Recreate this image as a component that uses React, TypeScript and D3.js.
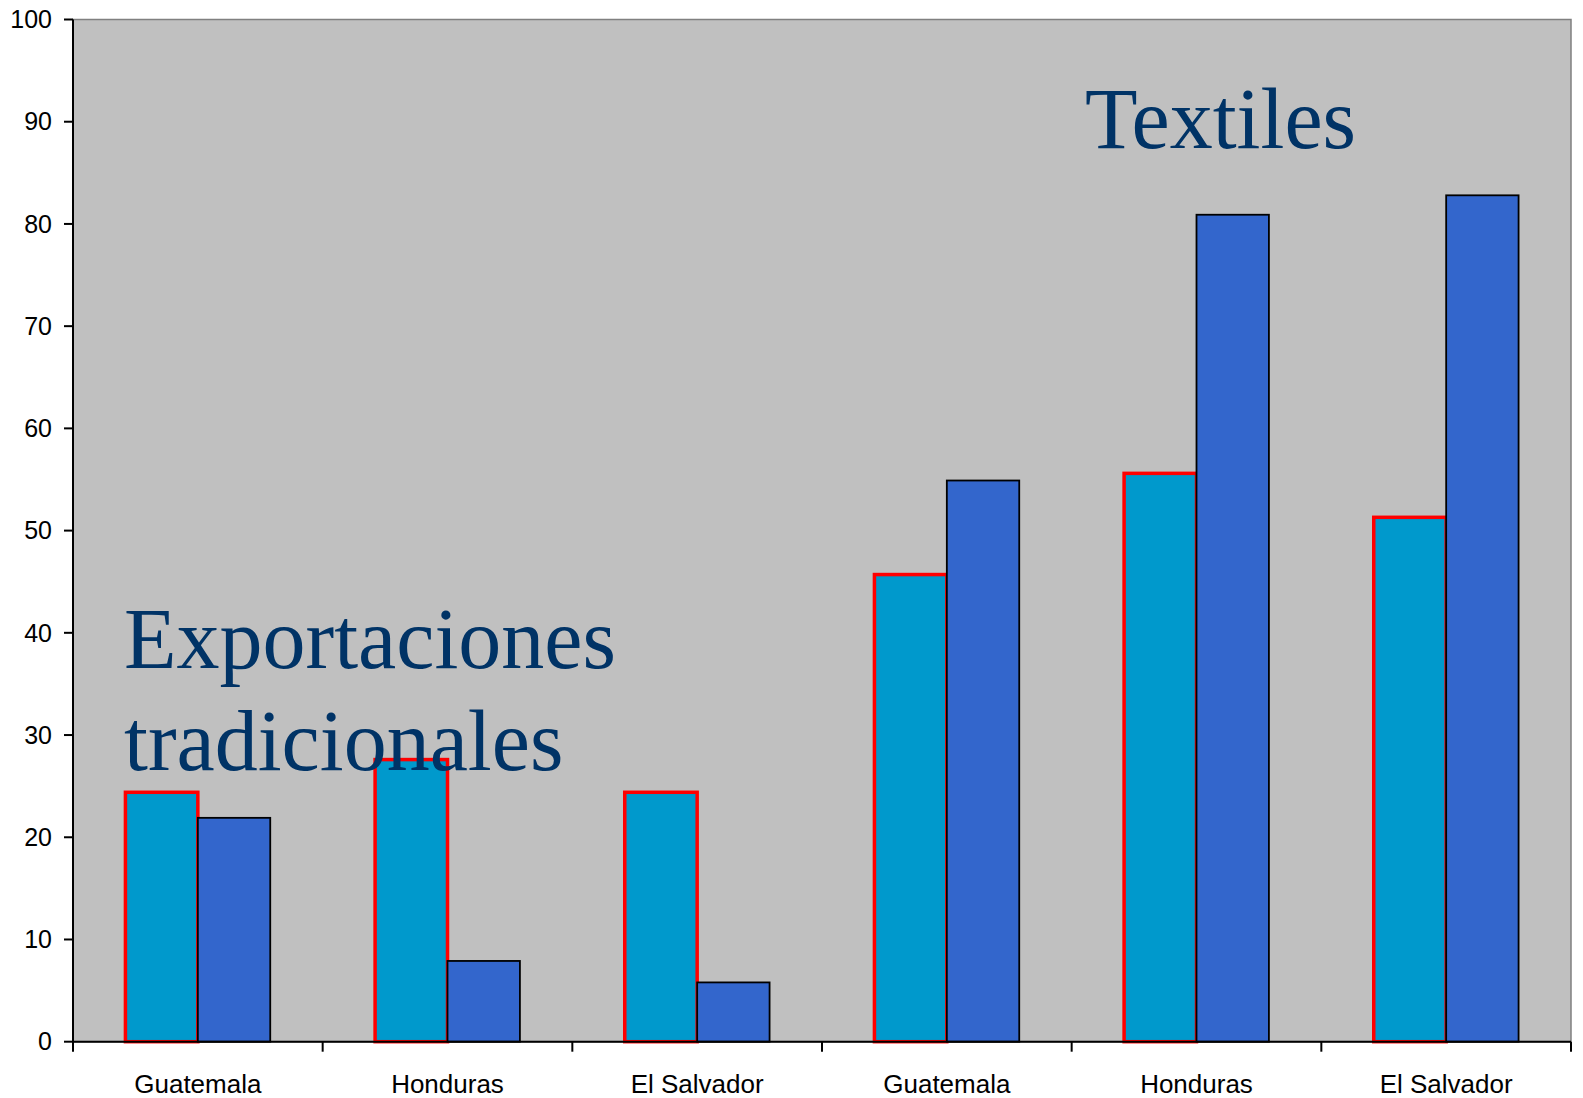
import * as d3 from 'd3';
import React from 'react';

// data
const categories = ['Guatemala', 'Honduras', 'El Salvador', 'Guatemala ', 'Honduras ', 'El Salvador '];
const categoryLabels = ['Guatemala', 'Honduras', 'El Salvador', 'Guatemala', 'Honduras', 'El Salvador'];
const seriesA = [24.4, 27.6, 24.4, 45.7, 55.6, 51.3];
const seriesB = [21.9, 7.9, 5.8, 54.9, 80.9, 82.8];
const yTicks = [0, 10, 20, 30, 40, 50, 60, 70, 80, 90, 100];
const seriesKeys = ['a', 'b'];

const W = 1583;
const H = 1098;
const left = 73;
const right = 1571;
const top = 19.5;
const bottom = 1041.7;

const App = () => {
    const x0 = d3.scaleBand<string>().domain(categories).range([left, right]).padding(0);
    const x1 = d3.scaleBand<string>().domain(seriesKeys).range([0, x0.bandwidth()]).paddingInner(0).paddingOuter(0.724);
    const y = d3.scaleLinear().domain([0, 100]).range([bottom, top]);

    const bars = categories.map((c, i) => (
        <g key={c}>
            <rect
                x={(x0(c) as number) + (x1('a') as number)}
                y={y(seriesA[i])}
                width={x1.bandwidth()}
                height={y(0) - y(seriesA[i])}
                fill="#0099CC"
                stroke="#FF0000"
                strokeWidth={3.5}
            />
            <rect
                x={(x0(c) as number) + (x1('b') as number)}
                y={y(seriesB[i])}
                width={x1.bandwidth()}
                height={y(0) - y(seriesB[i])}
                fill="#3366CC"
                stroke="#000000"
                strokeWidth={1.8}
            />
        </g>
    ));

    const boundaries = categories.map((c) => x0(c) as number).concat([right]);

    return (
        <svg width={W} height={H} style={{ position: 'absolute', left: 0, top: 0, display: 'block' }}>
            <rect x={0} y={0} width={W} height={H} fill="#ffffff" />
            <rect x={left} y={top} width={right - left} height={bottom - top} fill="#C0C0C0" stroke="#808080" strokeWidth={1.5} />
            {bars}
            {/* y axis */}
            <line x1={left} x2={left} y1={top} y2={bottom} stroke="#000" strokeWidth={2} />
            {yTicks.map((t) => (
                <g key={t}>
                    <line x1={left - 9} x2={left} y1={y(t)} y2={y(t)} stroke="#000" strokeWidth={2} />
                    <text
                        x={52}
                        y={y(t)}
                        dy="0.35em"
                        textAnchor="end"
                        fontFamily="Liberation Sans, Arial, sans-serif"
                        fontSize={25}
                        fill="#000"
                    >
                        {t}
                    </text>
                </g>
            ))}
            {/* x axis */}
            <line x1={left} x2={right} y1={bottom} y2={bottom} stroke="#000" strokeWidth={2} />
            {boundaries.map((b, i) => (
                <line key={i} x1={b} x2={b} y1={bottom} y2={bottom + 10} stroke="#000" strokeWidth={2} />
            ))}
            {categories.map((c, i) => (
                <text
                    key={c}
                    x={(x0(c) as number) + x0.bandwidth() / 2}
                    y={1093}
                    textAnchor="middle"
                    fontFamily="Liberation Sans, Arial, sans-serif"
                    fontSize={26}
                    fill="#000"
                >
                    {categoryLabels[i]}
                </text>
            ))}
            {/* annotations */}
            <text x={124} y={668} fontFamily="Liberation Serif, Times New Roman, serif" fontSize={86} fill="#003366">
                Exportaciones
            </text>
            <text x={124} y={770} fontFamily="Liberation Serif, Times New Roman, serif" fontSize={86} fill="#003366">
                tradicionales
            </text>
            <text x={1085} y={148} fontFamily="Liberation Serif, Times New Roman, serif" fontSize={86} fill="#003366">
                Textiles
            </text>
        </svg>
    );
};

export default App;
